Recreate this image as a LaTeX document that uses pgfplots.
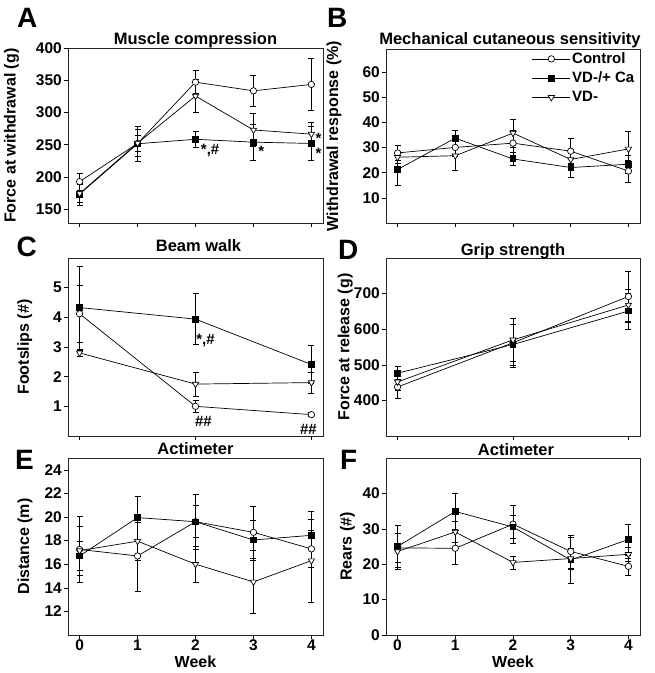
\documentclass[border=0pt]{standalone}
\usepackage{pgfplots}
\pgfplotsset{compat=1.18}
\usepackage{fontspec}
\setmainfont{Liberation Sans}
\pgfplotsset{
  panel/.style={
    scale only axis, anchor=south west,
    xmin=-0.2, xmax=4.2, xtick={0,1,2,3,4},
    tick align=outside, major tick length=4pt, tick pos=left,
    axis line style={line width=0.6pt, black!85},
    every tick/.style={black, line width=0.6pt},
    tick label style={font=\bfseries\fontsize{15.5}{16}\selectfont},
    yticklabel style={inner sep=2pt},
    xticklabel style={inner sep=0.5pt},
    /pgf/number format/assume math mode=true,
    label style={font=\bfseries\fontsize{16}{17}\selectfont},
    title style={font=\bfseries\fontsize{16.5}{17}\selectfont, at={(0.5,1)}, anchor=base, inner sep=0pt},
    clip=false,
    error bars/y dir=both, error bars/y explicit,
    error bars/error bar style={line width=0.6pt, black},
    error bars/error mark options={rotate=90, mark size=3pt, line width=0.6pt, black},
    legend image code/.code={\draw[mark repeat=2,mark phase=2,##1] plot coordinates {(0pt,0pt) (19pt,0pt) (38pt,0pt)};},
  },
  ctrl/.style={black, line width=0.7pt, mark=*, mark size=3.2pt, mark options={fill=white, solid, line width=0.7pt}},
  vdca/.style={black, line width=0.7pt, mark=square*, mark size=2.8pt, mark options={fill=black, solid}},
  vdm/.style={black, line width=0.7pt, mark=triangle*, mark size=3.6pt, mark options={fill=white, rotate=180, solid, line width=0.7pt}},
}
\tikzset{
  ann/.style={anchor=base west, inner sep=0pt, font=\bfseries\fontsize{15}{15}\selectfont},
  plet/.style={anchor=base west, inner sep=0pt, font=\bfseries\fontsize{28}{28}\selectfont},
}
\begin{document}
\begin{tikzpicture}
\useasboundingbox (0pt,0pt) rectangle (655pt,673pt);
% ---------------- A
\begin{axis}[panel, at={(68pt,450pt)}, width=255pt, height=174.5pt,
  ymin=128, ymax=400, ytick={150,200,250,300,350,400}, xticklabels={},
  title={Muscle compression}, title style={yshift=-2pt},
  ylabel={Force at withdrawal (g)}, ylabel style={at={(axis description cs:-0.221,0.5)}, anchor=center}]
\addplot[ctrl] coordinates {(0,192.5) +- (0,13) (1,252) +- (0,13) (2,347.5) +- (0,18) (3,334) +- (0,24) (4,344) +- (0,41)};
\addplot[vdca] coordinates {(0,173) +- (0,17) (1,251.5) +- (0,27) (2,258.5) +- (0,13) (3,254) +- (0,28) (4,252) +- (0,26)};
\addplot[vdm] coordinates {(0,174) +- (0,14) (1,252.5) +- (0,21) (2,326) +- (0,26) (3,273) +- (0,26) (4,266.5) +- (0,19)};
\node[ann] at (axis cs:2.09,234.5) {*,\#};
\node[ann] at (axis cs:3.08,232) {*};
\node[ann] at (axis cs:4.07,228) {*};
\node[ann] at (axis cs:4.07,252) {*};
\end{axis}
% ---------------- B
\begin{axis}[panel, at={(386pt,450pt)}, width=254pt, height=174pt,
  ymin=0, ymax=69.3, ytick={10,20,30,40,50,60}, xticklabels={},
  title={Mechanical cutaneous sensitivity}, title style={yshift=-1.5pt, xshift=-3pt},
  ylabel={Withdrawal response (\%)}, ylabel style={at={(axis description cs:-0.205,0.5)}, anchor=center},
  legend style={draw=none, fill=none, at={(1,1)}, anchor=north east, xshift=-1pt, yshift=0pt,
    font=\bfseries\fontsize{15}{16}\selectfont, row sep=4pt, nodes={inner sep=1.5pt}},
  legend cell align=left]
\addplot[ctrl] coordinates {(0,27.9) +- (0,3) (1,30.1) +- (0,3.5) (2,31.8) +- (0,5) (3,28.6) +- (0,5) (4,20.7) +- (0,4.4)};
\addplot[vdca] coordinates {(0,21.3) +- (0,6.3) (1,33.8) +- (0,3.2) (2,25.5) +- (0,2.6) (3,22.1) +- (0,3.8) (4,23.4) +- (0,3.5)};
\addplot[vdm] coordinates {(0,26.2) +- (0,2.5) (1,26.8) +- (0,6) (2,35.8) +- (0,5.5) (3,25.3) +- (0,3) (4,29.5) +- (0,7)};
\legend{Control, VD-/+ Ca, VD-}
\end{axis}
% ---------------- C
\begin{axis}[panel, at={(68pt,237pt)}, width=255pt, height=178pt,
  ymin=0, ymax=6, ytick={1,2,3,4,5}, xtick={0,2,4}, xticklabels={},
  title={Beam walk}, title style={yshift=1pt, xshift=3pt},
  ylabel={Footslips (\#)}, ylabel style={at={(axis description cs:-0.17,0.5)}, anchor=center}]
\addplot[ctrl] coordinates {(0,4.12) +- (0,0.95) (2,1.0) +- (0,0.2) (4,0.72) +- (0,0.07)};
\addplot[vdca] coordinates {(0,4.33) +- (0,1.4) (2,3.94) +- (0,0.86) (4,2.41) +- (0,0.65)};
\addplot[vdm] coordinates {(0,2.8) +- (0,0.1) (2,1.75) +- (0,0.4) (4,1.8) +- (0,0.35)};
\node[ann] at (axis cs:2.01,3.08) {*,\#};
\node[ann] at (axis cs:1.99,0.315) {\#\#};
\node[ann] at (axis cs:3.8,0.044) {\#\#};
\end{axis}
% ---------------- D
\begin{axis}[panel, at={(386pt,237pt)}, width=254pt, height=178pt,
  ymin=300, ymax=800, ytick={400,500,600,700}, xtick={0,2,4}, xticklabels={},
  title={Grip strength}, title style={yshift=-3.5pt},
  ylabel={Force at release (g)}, ylabel style={at={(axis description cs:-0.16,0.5)}, anchor=center}]
\addplot[ctrl] coordinates {(0,437.7) +- (0,32) (2,562) +- (0,68) (4,692) +- (0,72)};
\addplot[vdca] coordinates {(0,476.4) +- (0,18) (2,557) +- (0,58) (4,651) +- (0,50)};
\addplot[vdm] coordinates {(0,452) +- (0,25) (2,570) +- (0,60) (4,668) +- (0,45)};
\end{axis}
% ---------------- E
\begin{axis}[panel, at={(68pt,38pt)}, width=255pt, height=177pt,
  ymin=10, ymax=25, ytick={12,14,16,18,20,22,24},
  title={Actimeter}, title style={yshift=-3pt},
  xlabel={Week}, xlabel style={at={(axis description cs:0.5,-0.15)}, anchor=center},
  ylabel={Distance (m)}, ylabel style={at={(axis description cs:-0.169,0.5)}, anchor=center}]
\addplot[ctrl] coordinates {(0,17.25) +- (0,2.8) (1,16.7) +- (0,3) (2,19.6) +- (0,1.35) (3,18.7) +- (0,2.2) (4,17.3) +- (0,1.6)};
\addplot[vdca] coordinates {(0,16.7) +- (0,1.2) (1,19.95) +- (0,1.8) (2,19.6) +- (0,2.3) (3,18.05) +- (0,1.7) (4,18.45) +- (0,2)};
\addplot[vdm] coordinates {(0,17.15) +- (0,2.1) (1,17.95) +- (0,1.6) (2,16.0) +- (0,1.5) (3,14.5) +- (0,2.65) (4,16.3) +- (0,3.5)};
\end{axis}
% ---------------- F
\begin{axis}[panel, at={(386pt,38pt)}, width=254pt, height=177pt,
  ymin=0, ymax=50, ytick={0,10,20,30,40},
  title={Actimeter}, title style={yshift=-3pt, xshift=3pt},
  xlabel={Week}, xlabel style={at={(axis description cs:0.5,-0.15)}, anchor=center},
  ylabel={Rears (\#)}, ylabel style={at={(axis description cs:-0.152,0.5)}, anchor=center}]
\addplot[ctrl] coordinates {(0,24.6) +- (0,4.2) (1,24.5) +- (0,4.6) (2,31.3) +- (0,5.3) (3,23.6) +- (0,4.7) (4,19.4) +- (0,2.4)};
\addplot[vdca] coordinates {(0,25) +- (0,6) (1,34.9) +- (0,5.1) (2,30.5) +- (0,3.2) (3,21.2) +- (0,6.5) (4,27) +- (0,4.4)};
\addplot[vdm] coordinates {(0,23.6) +- (0,5) (1,29.1) +- (0,3) (2,20.5) +- (0,1.8) (3,21.6) +- (0,3) (4,22.8) +- (0,2)};
\end{axis}
% panel letters
\node[plet] at (17pt,645pt) {A};
\node[plet] at (327pt,645pt) {B};
\node[plet] at (16.5pt,416pt) {C};
\node[plet] at (338pt,413pt) {D};
\node[plet] at (15pt,203pt) {E};
\node[plet] at (340pt,203pt) {F};
\end{tikzpicture}
\end{document}
